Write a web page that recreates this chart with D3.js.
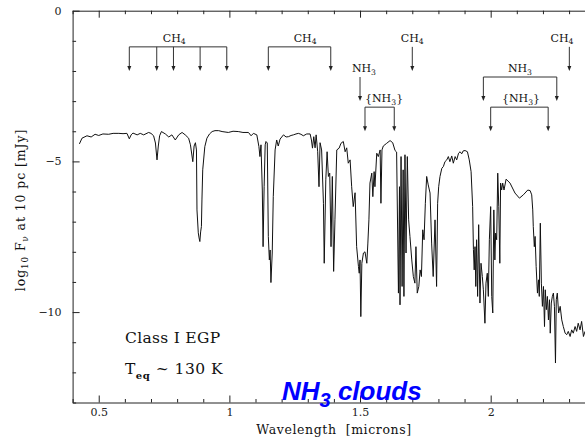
<!DOCTYPE html>
<html>
<head>
<meta charset="utf-8">
<script src="https://cdn.jsdelivr.net/npm/d3@7"></script>
<style>
  body { margin: 0; background: #fff; }
  svg { display: block; }
  text { white-space: pre; }
</style>
</head>
<body>
<div id="chart"></div>
<script>
// Spectrum: [wavelength (micron), log10 F_nu (mJy)]
const specVisible = [
  [0.426, -4.42], [0.436, -4.23], [0.455, -4.15], [0.471, -4.19], [0.486, -4.10], [0.5, -4.14],
  [0.516, -4.09], [0.538, -4.10], [0.555, -4.07], [0.577, -4.07], [0.593, -4.08], [0.608, -4.07],
  [0.617, -4.25], [0.624, -4.12], [0.631, -4.06], [0.647, -4.12], [0.659, -4.07], [0.672, -4.12],
  [0.691, -4.04], [0.70, -4.07], [0.71, -4.15], [0.717, -4.39], [0.723, -4.95], [0.728, -4.49],
  [0.733, -4.15], [0.74, -4.01], [0.755, -4.09], [0.768, -4.19], [0.78, -4.12], [0.793, -4.29],
  [0.806, -4.12], [0.819, -4.04], [0.831, -4.12], [0.844, -4.23], [0.851, -4.45], [0.86, -5.01],
  [0.865, -4.49], [0.87, -4.38], [0.874, -4.62], [0.876, -6.61], [0.881, -7.37], [0.884, -7.54],
  [0.887, -7.66], [0.89, -7.34], [0.893, -7.16], [0.895, -6.28], [0.898, -5.28], [0.906, -4.51],
  [0.914, -4.23], [0.924, -4.09], [0.934, -4.01], [0.945, -3.98], [0.959, -3.98]
];
const specJ = [
  [0.972, -4.01], [0.996, -4.04], [1.014, -4.00], [1.034, -4.01], [1.052, -4.04], [1.073, -4.04],
  [1.083, -4.15], [1.092, -4.07], [1.105, -4.12], [1.113, -4.51], [1.117, -4.84], [1.121, -4.45],
  [1.126, -5.95], [1.129, -7.83], [1.133, -5.84], [1.137, -4.45], [1.14, -4.34], [1.145, -4.39],
  [1.149, -7.49], [1.153, -8.27], [1.156, -7.94], [1.159, -9.02], [1.164, -8.04], [1.168, -6.17],
  [1.175, -4.62], [1.181, -4.29], [1.187, -4.49], [1.194, -4.26], [1.207, -4.12], [1.217, -4.19],
  [1.226, -4.18], [1.236, -4.14], [1.245, -4.12], [1.255, -4.09], [1.264, -4.07], [1.274, -4.10],
  [1.283, -4.15], [1.296, -4.09], [1.309, -4.09], [1.314, -4.29], [1.318, -4.56], [1.323, -4.18],
  [1.328, -4.55], [1.332, -4.12], [1.338, -4.68], [1.343, -5.84], [1.347, -4.38], [1.353, -4.62],
  [1.36, -6.39], [1.363, -8.38], [1.369, -5.61], [1.374, -4.68], [1.379, -5.50], [1.384, -5.39],
  [1.389, -7.83], [1.394, -5.50], [1.399, -8.65], [1.404, -6.94], [1.411, -4.62], [1.42, -4.56],
  [1.427, -4.40], [1.436, -4.34]
];
const specH = [
  [1.443, -4.68], [1.449, -4.55], [1.455, -5.06], [1.462, -4.95], [1.468, -5.84], [1.474, -6.50],
  [1.481, -6.04], [1.487, -7.83], [1.494, -8.49], [1.497, -8.71], [1.50, -8.27], [1.503, -10.15],
  [1.507, -8.38], [1.513, -8.04], [1.519, -8.00], [1.526, -8.38], [1.53, -7.71], [1.534, -6.94],
  [1.538, -5.72], [1.545, -5.39], [1.549, -6.17], [1.554, -5.34], [1.557, -5.84], [1.564, -4.73],
  [1.57, -4.84], [1.577, -4.62], [1.58, -6.39], [1.584, -4.62], [1.589, -4.49], [1.602, -4.40],
  [1.615, -4.31], [1.625, -4.38], [1.634, -4.64], [1.640, -4.69], [1.647, -9.37], [1.651, -5.84],
  [1.653, -9.76], [1.657, -4.84], [1.661, -9.15], [1.665, -5.28], [1.668, -9.48], [1.672, -4.78],
  [1.676, -8.04], [1.681, -4.84], [1.686, -6.94], [1.691, -7.49], [1.698, -8.27], [1.704, -8.82],
  [1.71, -9.04], [1.714, -7.83], [1.719, -9.37], [1.725, -9.15], [1.73, -8.60], [1.735, -8.82],
  [1.74, -7.27], [1.745, -7.60], [1.75, -6.39], [1.755, -5.50], [1.761, -5.78], [1.768, -6.05],
  [1.774, -7.71], [1.78, -8.82], [1.787, -6.94], [1.793, -9.15], [1.797, -6.39], [1.801, -5.84],
  [1.806, -5.50], [1.813, -5.23], [1.819, -5.17], [1.825, -5.01], [1.832, -4.95], [1.838, -4.84],
  [1.844, -5.01], [1.851, -4.82], [1.857, -5.06]
];
const specK = [
  [1.864, -4.84], [1.870, -4.95], [1.877, -4.73], [1.883, -4.68], [1.889, -4.75], [1.895, -4.65],
  [1.902, -4.64], [1.911, -4.68], [1.918, -4.95], [1.925, -5.34], [1.931, -6.50], [1.934, -7.93],
  [1.937, -8.60], [1.940, -7.83], [1.943, -9.15], [1.946, -7.60], [1.95, -9.48], [1.954, -7.10],
  [1.959, -9.70], [1.963, -8.38], [1.968, -8.82], [1.972, -9.26], [1.978, -10.37], [1.982, -9.04],
  [1.987, -8.71], [1.991, -9.48], [1.995, -7.60], [2.0, -6.50], [2.004, -9.48], [2.008, -10.03],
  [2.012, -6.61], [2.016, -8.27], [2.019, -7.38], [2.023, -7.60], [2.027, -5.39], [2.031, -6.50],
  [2.035, -8.38], [2.038, -5.72], [2.042, -5.95], [2.046, -5.72], [2.051, -5.95], [2.059, -5.59],
  [2.074, -5.72], [2.093, -6.05], [2.11, -6.22], [2.125, -6.11], [2.142, -5.95], [2.151, -5.97],
  [2.157, -6.11], [2.161, -6.61], [2.163, -7.16], [2.167, -7.83], [2.170, -7.49], [2.174, -8.49],
  [2.179, -9.37], [2.183, -8.93], [2.186, -9.48], [2.19, -7.05], [2.194, -9.04], [2.198, -9.81],
  [2.202, -9.15], [2.206, -10.48], [2.209, -9.26], [2.213, -9.92], [2.217, -9.48], [2.221, -10.26],
  [2.225, -9.59], [2.228, -10.70], [2.232, -9.70], [2.236, -9.48], [2.24, -9.37], [2.244, -9.81],
  [2.248, -11.69], [2.251, -9.59], [2.255, -9.37], [2.26, -10.03], [2.266, -9.81], [2.272, -10.26],
  [2.278, -10.48], [2.285, -10.70], [2.291, -10.75], [2.297, -10.64], [2.304, -10.81], [2.31, -10.59],
  [2.316, -10.70], [2.323, -10.48], [2.329, -10.64], [2.335, -10.37], [2.342, -10.59], [2.348, -10.31],
  [2.355, -10.81], [2.361, -10.64], [2.372, -10.69]
];

// Axis ticks
const xMajorTicks = [0.5, 1, 1.5, 2];
const xTickLabels = ["0.5", "1", "1.5", "2"];
const xMinorTicks = [0.4, 0.6, 0.7, 0.8, 0.9, 1.1, 1.2, 1.3, 1.4, 1.6, 1.7, 1.8, 1.9, 2.1, 2.2, 2.3, 2.4];
const yMajorTicks = [0, -5, -10];
const yTickLabels = ["0", "\u22125", "\u221210"];
const yMinorTicks = [-1, -2, -3, -4, -6, -7, -8, -9, -11, -12, -13];

// Molecular band markers (wavelengths in micron, levels in log flux)
const CH4 = [["CH"], ["4", "sub"]];
const NH3 = [["NH"], ["3", "sub"]];
const NH3ice = [["{NH"], ["3", "sub"], ["}"]];
const ch4Visible = [0.617, 0.722, 0.786, 0.888, 0.99];
const ch4J = [1.149, 1.388];
const ch4H = [1.70];
const ch4K = [2.301];
const nh3H = [1.50];
const nh3K = [1.972, 2.253];
const nh3IceH = [1.519, 1.631];
const nh3IceK = [2.0, 2.22];

const annotations = [
  { text: CH4, at: 0.789, marks: ch4Visible, top: -1.2, tip: -2.0 },
  { text: CH4, at: 1.29, marks: ch4J, top: -1.2, tip: -2.0 },
  { text: CH4, at: 1.70, marks: ch4H, top: -1.2, tip: -2.0 },
  { text: CH4, at: 2.273, marks: ch4K, top: -1.2, tip: -2.0 },
  { text: NH3, at: 1.515, marks: nh3H, top: -2.2, tip: -3.0 },
  { text: NH3, at: 2.112, marks: nh3K, top: -2.2, tip: -3.0 },
  { text: NH3ice, at: 1.592, marks: nh3IceH, top: -3.2, tip: -4.0 },
  { text: NH3ice, at: 2.116, marks: nh3IceK, top: -3.2, tip: -4.0 }
];

const width = 585;
const height = 442;
const serif = "'DejaVu Serif', 'Liberation Serif', serif";

const x = d3.scaleLinear().domain([0.4, 2.4]).range([72.6, 595.2]);
const y = d3.scaleLinear().domain([-13, 0]).range([402.5, 10.7]);

const svg = d3
  .select("#chart")
  .append("svg")
  .attr("width", width)
  .attr("height", height);

// text with subscripts
function richText(sel, parts, subScale, shift) {
  let down = false;
  parts.forEach(([t, kind]) => {
    const ts = sel.append("tspan").text(t);
    if (kind === "sub" && !down) {
      ts.attr("dy", shift).attr("font-size", subScale + "em");
      down = true;
    } else if (kind !== "sub" && down) {
      ts.attr("dy", -shift);
      down = false;
    } else if (kind === "sub") {
      ts.attr("font-size", subScale + "em");
    }
  });
  return sel;
}

// Axes
function styleAxis(g) {
  g.attr("color", "#222").attr("font-family", serif).attr("font-size", 11);
  g.selectAll("line").attr("stroke-width", 1);
  g.select(".domain").attr("stroke-width", 1);
}

svg.append("g")
  .attr("transform", `translate(0,${y(-13)})`)
  .call(d3.axisBottom(x).tickValues(xMajorTicks).tickSizeInner(-7).tickSizeOuter(0).tickPadding(6)
    .tickFormat((d, i) => xTickLabels[i]))
  .call(styleAxis);

svg.append("g")
  .attr("transform", `translate(0,${y(-13)})`)
  .call(d3.axisBottom(x).tickValues(xMinorTicks).tickSizeInner(-3.5).tickSizeOuter(0).tickFormat(""))
  .call(styleAxis)
  .call((g) => g.select(".domain").remove());

svg.append("g")
  .attr("transform", `translate(0,${y(0)})`)
  .call(d3.axisTop(x).tickValues(xMajorTicks).tickSizeInner(-7).tickSizeOuter(0).tickFormat(""))
  .call(styleAxis);

svg.append("g")
  .attr("transform", `translate(0,${y(0)})`)
  .call(d3.axisTop(x).tickValues(xMinorTicks).tickSizeInner(-3.5).tickSizeOuter(0).tickFormat(""))
  .call(styleAxis)
  .call((g) => g.select(".domain").remove());

svg.append("g")
  .attr("transform", `translate(${x(0.4)},0)`)
  .call(d3.axisLeft(y).tickValues(yMajorTicks).tickSizeInner(-7).tickSizeOuter(0).tickPadding(11)
    .tickFormat((d, i) => yTickLabels[i]))
  .call(styleAxis);

svg.append("g")
  .attr("transform", `translate(${x(0.4)},0)`)
  .call(d3.axisLeft(y).tickValues(yMinorTicks).tickSizeInner(-3.5).tickSizeOuter(0).tickFormat(""))
  .call(styleAxis)
  .call((g) => g.select(".domain").remove());

// Axis titles
svg.append("text")
  .attr("x", 334)
  .attr("y", 434)
  .attr("text-anchor", "middle")
  .attr("font-family", serif)
  .attr("font-size", 12.5)
  .attr("letter-spacing", 0.6)
  .attr("fill", "#111")
  .text("Wavelength  [microns]");

svg.append("text")
  .attr("transform", "translate(25,210) rotate(-90)")
  .attr("text-anchor", "middle")
  .attr("font-family", serif)
  .attr("font-size", 12.5)
  .attr("letter-spacing", 0.9)
  .attr("fill", "#111")
  .call(richText, [["log"], ["10", "sub"], [" F"], ["\u03bd", "sub"], [" at 10 pc [mJy]"]], 0.7, 3);

// Spectrum
svg.append("clipPath")
  .attr("id", "plot-clip")
  .append("rect")
  .attr("x", x(0.4))
  .attr("y", y(0))
  .attr("width", x(2.4) - x(0.4))
  .attr("height", y(-13) - y(0));

const spectrum = specVisible.concat(specJ, specH, specK);

const line = d3
  .line()
  .x((d) => x(d[0]))
  .y((d) => y(d[1]));

svg.append("path")
  .datum(spectrum)
  .attr("clip-path", "url(#plot-clip)")
  .attr("d", line)
  .style("fill", "none")
  .style("stroke", "#111")
  .style("stroke-width", 1)
  .style("stroke-linejoin", "round");

// Band markers
const ann = svg.append("g").attr("stroke", "#333").attr("stroke-width", 1);

annotations.forEach((a) => {
  const g = ann.append("g");
  if (a.marks.length > 1) {
    g.append("line")
      .attr("x1", x(d3.min(a.marks)))
      .attr("x2", x(d3.max(a.marks)))
      .attr("y1", y(a.top))
      .attr("y2", y(a.top));
  }
  a.marks.forEach((m) => {
    g.append("line")
      .attr("x1", x(m))
      .attr("x2", x(m))
      .attr("y1", y(a.top))
      .attr("y2", y(a.tip) - 3);
    g.append("path")
      .attr("d", `M${x(m) - 2},${y(a.tip) - 5}L${x(m) + 2},${y(a.tip) - 5}L${x(m)},${y(a.tip)}Z`)
      .attr("fill", "#222")
      .attr("stroke", "none");
  });
  svg.append("text")
    .attr("x", x(a.at))
    .attr("y", y(a.top) - 5)
    .attr("text-anchor", "middle")
    .attr("font-family", serif)
    .attr("font-size", 11)
    .attr("fill", "#111")
    .call(richText, a.text, 0.7, 2.5);
});

// Model labels
svg.append("text")
  .attr("x", 125)
  .attr("y", 343)
  .attr("font-family", serif)
  .attr("font-size", 15.5)
  .attr("letter-spacing", 0.3)
  .attr("fill", "#111")
  .text("Class I EGP");

const teq = svg.append("text")
  .attr("x", 125)
  .attr("y", 374)
  .attr("font-family", serif)
  .attr("font-size", 15.5)
  .attr("letter-spacing", 0.5)
  .attr("fill", "#111");
teq.append("tspan").text("T");
teq.append("tspan").attr("dy", 5).attr("font-size", 10).attr("font-weight", "bold").text("eq");
teq.append("tspan").attr("dy", -5).text(" ~ 130 K");

const clouds = svg.append("text")
  .attr("x", 282)
  .attr("y", 400)
  .attr("font-family", "'Liberation Sans', Arial, sans-serif")
  .attr("font-size", 26)
  .attr("font-weight", "bold")
  .attr("font-style", "italic")
  .attr("fill", "#0000ff");
clouds.append("tspan").text("NH");
clouds.append("tspan").attr("dy", 7).attr("font-size", 20).text("3");
clouds.append("tspan").attr("dy", -7).text(" clouds");
</script>
</body>
</html>
